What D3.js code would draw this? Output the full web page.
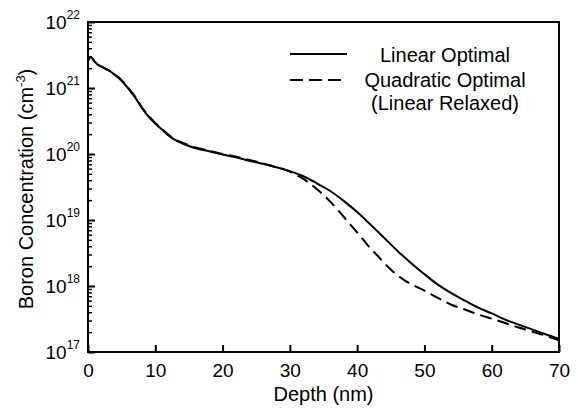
<!doctype html>
<html>
<head>
  <meta charset="utf-8">
  <title>Boron Concentration vs Depth</title>
  <style type="text/css">
    body{ margin:0; background:#fff; }
    text{
      font-family: "Liberation Sans", Arial, Helvetica, sans-serif;
      fill:#000;
    }
  </style>
</head>
<body>
  <div id="vis"></div>
  <script src="https://cdn.jsdelivr.net/npm/d3@7"></script>
  <script type="text/javascript">

    // depth in nm, concentration in cm^-3
    var linDepth = [0,0.4,1,1.5,2,3,4,5,6,7,8,9,10,11,12,13,14,15,16.3,18,20,22,24,26,28,30,32,34,36,38,40,42,44,46,48,50,52,54,56,58,60,62,64,66,68,70];
    var linConc = [2.6e21,2.95e21,2.5e21,2.24e21,2.1e21,1.86e21,1.58e21,1.29e21,9.8e20,7.2e20,5.0e20,3.7e20,2.9e20,2.35e20,1.9e20,1.62e20,1.45e20,1.32e20,1.2e20,1.1e20,9.8e19,8.9e19,7.9e19,7.1e19,6.3e19,5.5e19,4.6e19,3.6e19,2.75e19,1.95e19,1.32e19,8.5e18,5.4e18,3.4e18,2.24e18,1.51e18,1.05e18,7.8e17,6.0e17,4.7e17,3.85e17,3.1e17,2.6e17,2.2e17,1.86e17,1.58e17];

    var quadDepth = [0,0.4,1,1.5,2,3,4,5,6,7,8,9,10,11,12,13,14,15,16.3,18,20,22,24,26,28,29,30,31,32,33,34,35,36,37,38,39,40,41,42,43,44,45,46,47,48,50,52,54,56,58,60,62,64,66,68,70];
    var quadConc = [2.6e21,2.95e21,2.5e21,2.24e21,2.1e21,1.86e21,1.6e21,1.31e21,1.0e21,7.4e20,5.1e20,3.8e20,2.95e20,2.4e20,1.95e20,1.66e20,1.48e20,1.35e20,1.23e20,1.12e20,1.0e20,9.1e19,8.1e19,7.2e19,6.3e19,5.9e19,5.4e19,4.8e19,4.2e19,3.55e19,2.95e19,2.4e19,1.9e19,1.48e19,1.12e19,8.5e18,6.5e18,4.9e18,3.7e18,2.9e18,2.24e18,1.78e18,1.45e18,1.23e18,1.07e18,8.5e17,6.6e17,5.2e17,4.4e17,3.7e17,3.2e17,2.75e17,2.35e17,2.05e17,1.76e17,1.51e17];

    var xTicks = [0,10,20,30,40,50,60,70];
    var yExponents = [17,18,19,20,21,22];
    var legendNames = ['Linear Optimal', 'Quadratic Optimal', '(Linear Relaxed)'];

    var width = 578, height = 410;
    var margin = {top:22, right:19, bottom:58, left:88};
    var w = width - margin.left - margin.right,
        h = height - margin.top - margin.bottom;

    var svg = d3.select('#vis').append('svg')
      .attr('width', width).attr('height', height);

    var g = svg.append('g')
      .attr('transform', 'translate(' + margin.left + ',' + margin.top + ')');

    var x = d3.scaleLinear().domain([0,70]).range([0,w]);
    var y = d3.scaleLog().domain([1e17,1e22]).range([h,0]);

    // x axis
    var xAxis = d3.axisBottom(x).tickValues(xTicks).tickSizeInner(-7).tickSizeOuter(0);
    var gx = g.append('g').attr('transform','translate(0,' + h + ')').call(xAxis);
    gx.select('.domain').remove();
    gx.selectAll('line').attr('stroke','#000').attr('stroke-width',2);
    gx.selectAll('text')
      .attr('y', 25).attr('dy', 0)
      .style('font-size','19px');

    // y axis: majors + minors
    var majors = yExponents.map(function(e){ return Math.pow(10,e); });
    var minors = [];
    yExponents.slice(0,-1).forEach(function(e){
      for(var k = 2; k <= 9; k++){ minors.push(k * Math.pow(10,e)); }
    });

    var gyMin = g.append('g').call(d3.axisLeft(y).tickValues(minors).tickSizeInner(-4).tickSizeOuter(0).tickFormat(''));
    gyMin.select('.domain').remove();
    gyMin.selectAll('line').attr('stroke','#000').attr('stroke-width',1.5);

    var gyMaj = g.append('g').call(d3.axisLeft(y).tickValues(majors).tickSizeInner(-7).tickSizeOuter(0).tickFormat(''));
    gyMaj.select('.domain').remove();
    gyMaj.selectAll('line').attr('stroke','#000').attr('stroke-width',2);

    yExponents.forEach(function(e){
      var t = g.append('text')
        .attr('x', -8)
        .attr('y', y(Math.pow(10,e)) + 7)
        .attr('text-anchor','end')
        .style('font-size','19px')
        .text('10');
      t.append('tspan')
        .attr('dy', -10)
        .style('font-size','12px')
        .text(e);
    });

    // frame
    g.append('rect')
      .attr('width', w).attr('height', h)
      .attr('fill','none').attr('stroke','#000').attr('stroke-width',2);

    // curves
    var line = d3.line()
      .x(function(d){ return x(d[0]); })
      .y(function(d){ return y(d[1]); })
      .curve(d3.curveMonotoneX);

    var linPts = linDepth.map(function(d,i){ return [d, linConc[i]]; });
    var quadPts = quadDepth.map(function(d,i){ return [d, quadConc[i]]; });

    g.append('path')
      .attr('d', line(quadPts))
      .attr('fill','none').attr('stroke','#000').attr('stroke-width',2)
      .attr('stroke-dasharray','12,6');

    g.append('path')
      .attr('d', line(linPts))
      .attr('fill','none').attr('stroke','#000').attr('stroke-width',2);

    // axis labels
    svg.append('text')
      .attr('x', margin.left + w/2)
      .attr('y', 401)
      .attr('text-anchor','middle')
      .style('font-size','20px')
      .text('Depth (nm)');

    var yl = svg.append('text')
      .attr('transform','translate(33,' + (margin.top + h/2 + 2) + ') rotate(-90)')
      .attr('text-anchor','middle')
      .style('font-size','20px')
      .text('Boron Concentration (cm');
    yl.append('tspan').attr('dy',-8).style('font-size','13px').text('-3');
    yl.append('tspan').attr('dy',8).text(')');

    // legend
    var leg = svg.append('g');
    leg.append('line')
      .attr('x1',290).attr('x2',347).attr('y1',54).attr('y2',54)
      .attr('stroke','#000').attr('stroke-width',2);
    leg.append('line')
      .attr('x1',290).attr('x2',347).attr('y1',80).attr('y2',80)
      .attr('stroke','#000').attr('stroke-width',2).attr('stroke-dasharray','13,6');

    leg.selectAll('text.lg').data(legendNames).enter().append('text')
      .attr('class','lg')
      .attr('x', 445)
      .attr('y', function(d,i){ return [61.5, 87, 110][i]; })
      .attr('text-anchor','middle')
      .style('font-size','20px')
      .text(function(d){ return d; });

  </script>
</body>
</html>
